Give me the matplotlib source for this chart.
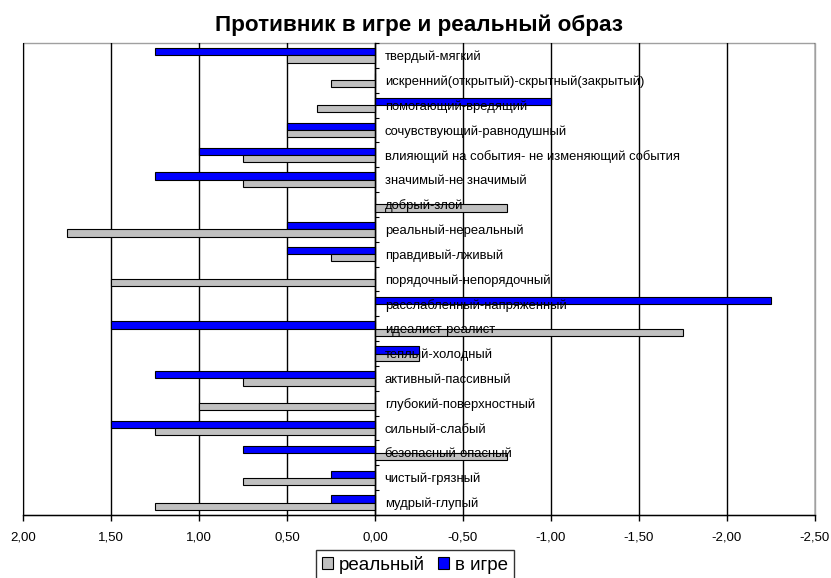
import matplotlib
matplotlib.use("Agg")
import matplotlib.pyplot as plt
from matplotlib.patches import Rectangle
from matplotlib.ticker import FixedLocator, FuncFormatter
import numpy as np

plt.rcParams['font.family'] = ['Liberation Sans', 'DejaVu Sans']

categories = [
    "твердый-мягкий",
    "искренний(открытый)-скрытный(закрытый)",
    "помогающий-вредящий",
    "сочувствующий-равнодушный",
    "влияющий на события- не изменяющий события",
    "значимый-не значимый",
    "добрый-злой",
    "реальный-нереальный",
    "правдивый-лживый",
    "порядочный-непорядочный",
    "расслабленный-напряженный",
    "идеалист-реалист",
    "теплый-холодный",
    "активный-пассивный",
    "глубокий-поверхностный",
    "сильный-слабый",
    "безопасный-опасный",
    "чистый-грязный",
    "мудрый-глупый",
]
real_vals = [0.50, 0.25, 0.33, 0.50, 0.75, 0.75, -0.75, 1.75, 0.25, 1.50,
             0.00, -1.75, -0.25, 0.75, 1.00, 1.25, -0.75, 0.75, 1.25]
game_vals = [1.25, 0.00, -1.00, 0.50, 1.00, 1.25, 0.00, 0.50, 0.50, 0.00,
             -2.25, 1.50, -0.25, 1.25, 0.00, 1.50, 0.75, 0.25, 0.25]
x_ticks = [2.0, 1.5, 1.0, 0.5, 0.0, -0.5, -1.0, -1.5, -2.0, -2.5]

fig = plt.figure(figsize=(8.31, 5.78), dpi=100)
ax = fig.add_axes([23/831, 1-515/578, (815-23)/831, (515-43)/578])

y = np.arange(len(categories))
h = 0.29
ax.barh(y - h/2, game_vals, height=h, color='#0000FF', edgecolor='black',
        linewidth=0.8, label='в игре', zorder=3)
ax.barh(y + h/2, real_vals, height=h, color='#C0C0C0', edgecolor='black',
        linewidth=0.8, label='реальный', zorder=3)

ax.set_xlim(2.0, -2.5)
ax.set_ylim(len(categories) - 0.5, -0.5)

# gridlines (behind bars)
ax.xaxis.set_major_locator(FixedLocator(x_ticks))
ax.xaxis.set_major_formatter(FuncFormatter(lambda v, p: f"{v:.2f}".replace('.', ',')))
ax.grid(axis='x', color='black', linewidth=1.0)
ax.xaxis.set_zorder(1)
ax.tick_params(axis='x', direction='out', length=4, width=1, labelsize=9.5,
               pad=8, colors='black')

# y axis at data 0, labels on right, drawn over bars
for s in ['left', 'top']:
    ax.spines[s].set_visible(False)
ax.spines['right'].set_position(('data', 0))
ax.spines['right'].set_color('black')
ax.spines['right'].set_linewidth(1.0)
ax.spines['right'].set_zorder(4)
ax.spines['bottom'].set_color('black')
ax.spines['bottom'].set_linewidth(1.0)
ax.spines['bottom'].set_zorder(4)
ax.yaxis.set_ticks_position('right')
ax.yaxis.set_label_position('right')
ax.set_yticks(y)
ax.set_yticklabels(categories)
ax.yaxis.set_minor_locator(FixedLocator(np.arange(-0.5, len(categories), 1.0)))
ax.tick_params(axis='y', which='major', length=0, pad=7, labelsize=9.4)
ax.tick_params(axis='y', which='minor', length=3, width=0.8, direction='out')
ax.yaxis.set_zorder(5)

# plot-area border
ax.add_patch(Rectangle((0, 0), 1, 1, transform=ax.transAxes, fill=False,
                       edgecolor='#A0A0A0', linewidth=1.0, zorder=0, clip_on=False))

fig.text(0.5045, 1-31/578, "Противник в игре и реальный образ",
         fontsize=16.2, fontweight='bold', ha='center', va='baseline')

handles, labels = ax.get_legend_handles_labels()
leg = fig.legend([handles[1], handles[0]], [labels[1], labels[0]],
                 loc='upper center', bbox_to_anchor=(415/831, 1-550/578), ncol=2,
                 frameon=True, fancybox=False, edgecolor='black', fontsize=13.5,
                 handlelength=0.6, handleheight=0.6, handletextpad=0.3,
                 columnspacing=0.7, borderpad=0.3, borderaxespad=0)
leg.get_frame().set_linewidth(1.0)

fig.savefig("out.png", dpi=100)
